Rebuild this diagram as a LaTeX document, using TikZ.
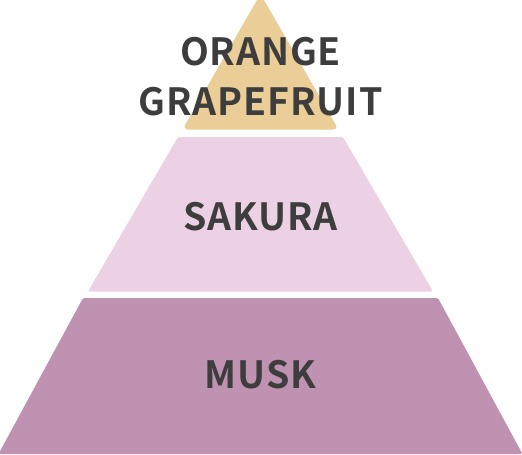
\documentclass[tikz,border=0pt]{standalone}
\usepackage{fontspec}
\newfontfamily\lblfont{Noto Sans CJK JP}[UprightFont=* Bold, LetterSpace=2.5]
\definecolor{topc}{HTML}{EBCD97}
\definecolor{midc}{HTML}{ECD1E4}
\definecolor{botc}{HTML}{C092B2}
\definecolor{txtc}{HTML}{3D3D3D}
\begin{document}
\begin{tikzpicture}[x=1pt,y=-1pt,
  layer/.style={rounded corners=1.5pt},
  label/.style={font=\lblfont\fontsize{37.5}{40}\selectfont, text=txtc, anchor=base, inner sep=0pt}]
\useasboundingbox (0,0) rectangle (522,455);
\fill[topc, rounded corners=5pt] (260.5,-6) -- (338.5,129.5) -- (182.5,129.5) -- cycle;
\fill[layer, midc] (178,137) -- (343,137) -- (433,291.5) -- (88,291.5) -- cycle;
\fill[layer, botc] (83,298) -- (438,298) -- (522.5,454) -- (-1.5,454) -- cycle;
\node[label] (orange) at (260.5,65) {ORANGE};
\node[label] (grape) at (260.5,115) {GRAPEFRUIT};
\node[label] (sakura) at (260.5,230) {SAKURA};
\node[label] (musk) at (260.5,388) {MUSK};
\end{tikzpicture}
\end{document}
